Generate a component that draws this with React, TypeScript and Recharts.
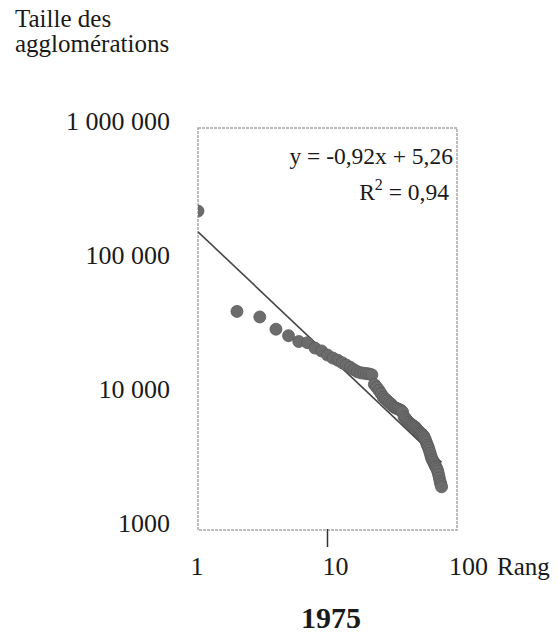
import { ScatterChart, Scatter, XAxis, YAxis, ReferenceArea, Customized } from 'recharts'

// rang des agglomérations (1975) et taille
const ranks = [
  1, 2, 3, 4, 5, 6, 7, 8, 9, 10, 11, 12, 13, 14, 15, 16, 17, 18, 19, 20,
  21, 22, 23, 24, 25, 26, 27, 28, 29, 30, 31, 32, 33, 34, 35, 36, 37, 38, 39, 40,
  41, 42, 43, 44, 45, 46, 47, 48, 49, 50, 51, 52, 53, 54, 55, 56, 57, 58, 59, 60,
  61, 62, 63, 64, 65, 66, 67, 68, 69, 70, 71, 72, 73, 74, 75, 76,
]
const sizes = [
  240000, 42800, 38900, 31500, 28200, 25500, 25000, 22800, 21700, 20200,
  19200, 18500, 17700, 17000, 16400, 15700, 15200, 14900, 14800, 14700,
  14600, 14400, 12200, 11600, 11000, 10400, 9800, 9500, 9200, 8900,
  8700, 8400, 8200, 8100, 8000, 7900, 7800, 7600, 7000, 6800,
  6600, 6400, 6300, 6150, 6050, 6000, 5900, 5800, 5650, 5500,
  5400, 5300, 5250, 5150, 5050, 4900, 4700, 4500, 4300, 4150,
  3950, 3750, 3550, 3400, 3300, 3200, 3100, 3000, 2950, 2850,
  2750, 2600, 2450, 2300, 2200, 2100,
]

// droite d'ajustement y = -0,92x + 5,26 (extrémités lues)
const fitRanks = [1, 76]
const fitSizes = [168000, 3200]

const rankTicks = [1, 10, 100]
const sizeTicks = [1000, 10000, 100000, 1000000]
const sizeTickLabels = ['1000', '10 000', '100 000', '1 000 000']

const points = ranks.map((r, i) => ({ rank: r, size: sizes[i] }))
const fit = fitRanks.map((r, i) => ({ rank: r, size: fitSizes[i] }))

const FONT = '"Liberation Serif", "Times New Roman", serif'
const INK = '#1a1a1a'

function XTick({ x, y, payload }: any) {
  const v = payload.value
  if (v === 1) {
    return <text x={x - 1} y={y + 45} textAnchor="middle" fontSize={26} fontFamily={FONT} fill={INK}>1</text>
  }
  if (v === 10) {
    return (
      <g>
        <line x1={x} x2={x} y1={y - 1} y2={y + 17} stroke="#333" strokeWidth={1.5} />
        <text x={x + 8} y={y + 45} textAnchor="middle" fontSize={26} fontFamily={FONT} fill={INK}>10</text>
      </g>
    )
  }
  return (
    <g>
      <text x={x - 8} y={y + 45} textAnchor="start" fontSize={26} fontFamily={FONT} fill={INK}>100</text>
      <text x={x + 40} y={y + 45} textAnchor="start" fontSize={25} fontFamily={FONT} fill={INK}>Rang</text>
    </g>
  )
}

function YTick({ x, y, payload }: any) {
  const idx = sizeTicks.indexOf(payload.value)
  return (
    <text x={x - 28} y={y + 2} textAnchor="end" fontSize={26} fontFamily={FONT} fill={INK}>
      {sizeTickLabels[idx]}
    </text>
  )
}

function Annotations() {
  return (
    <g fontFamily={FONT} fill={INK}>
      <text x={15} y={27} fontSize={25}>Taille des</text>
      <text x={15} y={52} fontSize={25}>agglomérations</text>
      <text x={453} y={164} fontSize={23.5} textAnchor="end">y = -0,92x + 5,26</text>
      <text x={449} y={200} fontSize={23.5} textAnchor="end">
        R<tspan dy={-10} fontSize={16}>2</tspan><tspan dy={10}> = 0,94</tspan>
      </text>
      <text x={331} y={628} fontSize={30} fontWeight="bold" textAnchor="middle">1975</text>
    </g>
  )
}

const Dot = (props: any) => (
  <circle cx={props.cx} cy={props.cy} r={6} fill="#6c6c6c" stroke="#5a5a5a" strokeWidth={0.8} />
)

export default function App() {
  return (
    <div style={{ position: 'absolute', left: 0, top: 0, width: 558, height: 638, background: '#fff' }}>
      <ScatterChart width={558} height={638} margin={{ top: 128, right: 101, bottom: 58, left: 0 }}>
        <XAxis
          type="number"
          dataKey="rank"
          scale="log"
          domain={[1, 100]}
          ticks={rankTicks}
          allowDataOverflow
          axisLine={false}
          tickLine={false}
          tickSize={0}
          tickMargin={0}
          height={50}
          tick={<XTick />}
          interval={0}
        />
        <YAxis
          type="number"
          dataKey="size"
          scale="log"
          domain={[1000, 1000000]}
          ticks={sizeTicks}
          allowDataOverflow
          axisLine={false}
          tickLine={false}
          tickSize={0}
          tickMargin={0}
          width={198}
          tick={<YTick />}
          interval={0}
        />
        <ReferenceArea
          x1={1}
          x2={100}
          y1={1000}
          y2={1000000}
          fill="none"
          stroke="#a8a8a8"
          strokeWidth={1.5}
          strokeDasharray="3 1"
        />
        <Scatter
          data={fit}
          line={{ stroke: '#474747', strokeWidth: 1.6 }}
          shape={() => <g />}
          isAnimationActive={false}
          legendType="none"
        />
        <Scatter data={points} shape={<Dot />} isAnimationActive={false} />
        <Customized component={<Annotations />} />
      </ScatterChart>
    </div>
  )
}
